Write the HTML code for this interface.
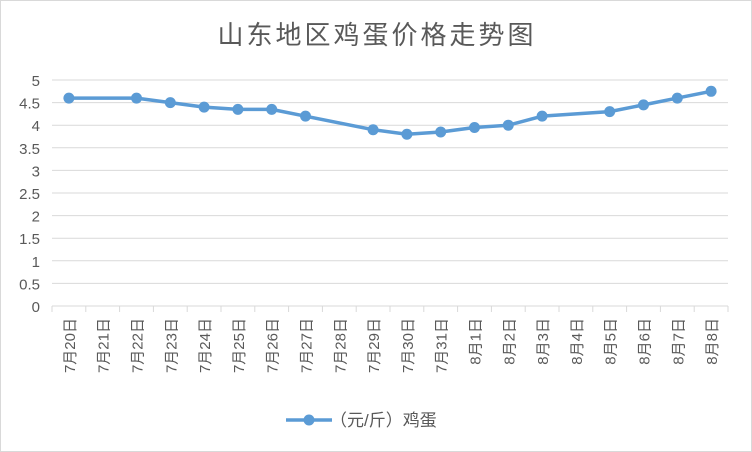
<!DOCTYPE html>
<html><head><meta charset="utf-8"><style>
body{margin:0;background:#fff}
svg{display:block;font-family:"Liberation Sans","Noto Sans CJK SC",sans-serif}
</style></head><body>
<svg id="c" width="752" height="452">
<rect x="0.5" y="0.5" width="751" height="451" fill="#fff" stroke="#d9d9d9"/>
<text x="377" y="44" text-anchor="middle" font-size="26" letter-spacing="3" fill="#595959">山东地区鸡蛋价格走势图</text>
<g id="grid"></g><g id="yt"></g><g id="xt"></g><g id="ser"></g>
<g>
<line x1="286" y1="420" x2="332" y2="420" stroke="#5b9bd5" stroke-width="3.5"/>
<circle cx="309" cy="420" r="5.5" fill="#5b9bd5"/>
<text x="330" y="426" font-size="17" fill="#595959">（元/斤）鸡蛋</text>
</g>
</svg>
<script>
const categories=["7月20日","7月21日","7月22日","7月23日","7月24日","7月25日","7月26日","7月27日","7月28日","7月29日","7月30日","7月31日","8月1日","8月2日","8月3日","8月4日","8月5日","8月6日","8月7日","8月8日"];
const values=[4.6,null,4.6,4.5,4.4,4.35,4.35,4.2,null,3.9,3.8,3.85,3.95,4.0,4.2,null,4.3,4.45,4.6,4.75];
const yTicks=[0,0.5,1,1.5,2,2.5,3,3.5,4,4.5,5];
const NS="http://www.w3.org/2000/svg";
const L=52,R=728,T=80,B=306,yMax=5;
const bw=(R-L)/categories.length;
const x=i=>L+bw*(i+0.5);
const y=v=>B-(v/yMax)*(B-T);
function mk(t,a,p){const e=document.createElementNS(NS,t);for(const k in a)e.setAttribute(k,a[k]);p.appendChild(e);return e;}
const grid=document.getElementById('grid'),yt=document.getElementById('yt'),xt=document.getElementById('xt'),ser=document.getElementById('ser');
yTicks.forEach(v=>{
 const g=mk('line',{x1:L,x2:R,y1:y(v),y2:y(v),stroke:'#d9d9d9','stroke-width':1},grid);
 
 
 const t=mk('text',{x:40,y:y(v)+6,'text-anchor':'end','font-size':15,fill:'#595959'},yt);
 t.textContent=v;
 
 
});
for(let i=0;i<=categories.length;i++){
 const tk=mk('line',{x1:L+bw*i,x2:L+bw*i,y1:B,y2:B+6,stroke:'#d9d9d9'},xt);
 
 
}
categories.forEach((c,i)=>{
 const t=mk('text',{x:0,y:0,'font-size':15,fill:'#595959','text-anchor':'end',transform:`translate(${x(i)+6},${B+12}) rotate(-90)`},xt);
 t.textContent=c;
 
 
});
const pts=[];values.forEach((v,i)=>{if(v!=null)pts.push([x(i),y(v)]);});
const pl=mk('polyline',{points:pts.map(p=>p.join(',')).join(' '),fill:'none',stroke:'#5b9bd5','stroke-width':3.5,'stroke-linejoin':'round'},ser);


pts.forEach(p=>{
 const c=mk('circle',{cx:p[0],cy:p[1],r:5.5,fill:'#5b9bd5'},ser);
 
 
});
</script>
</body></html>
